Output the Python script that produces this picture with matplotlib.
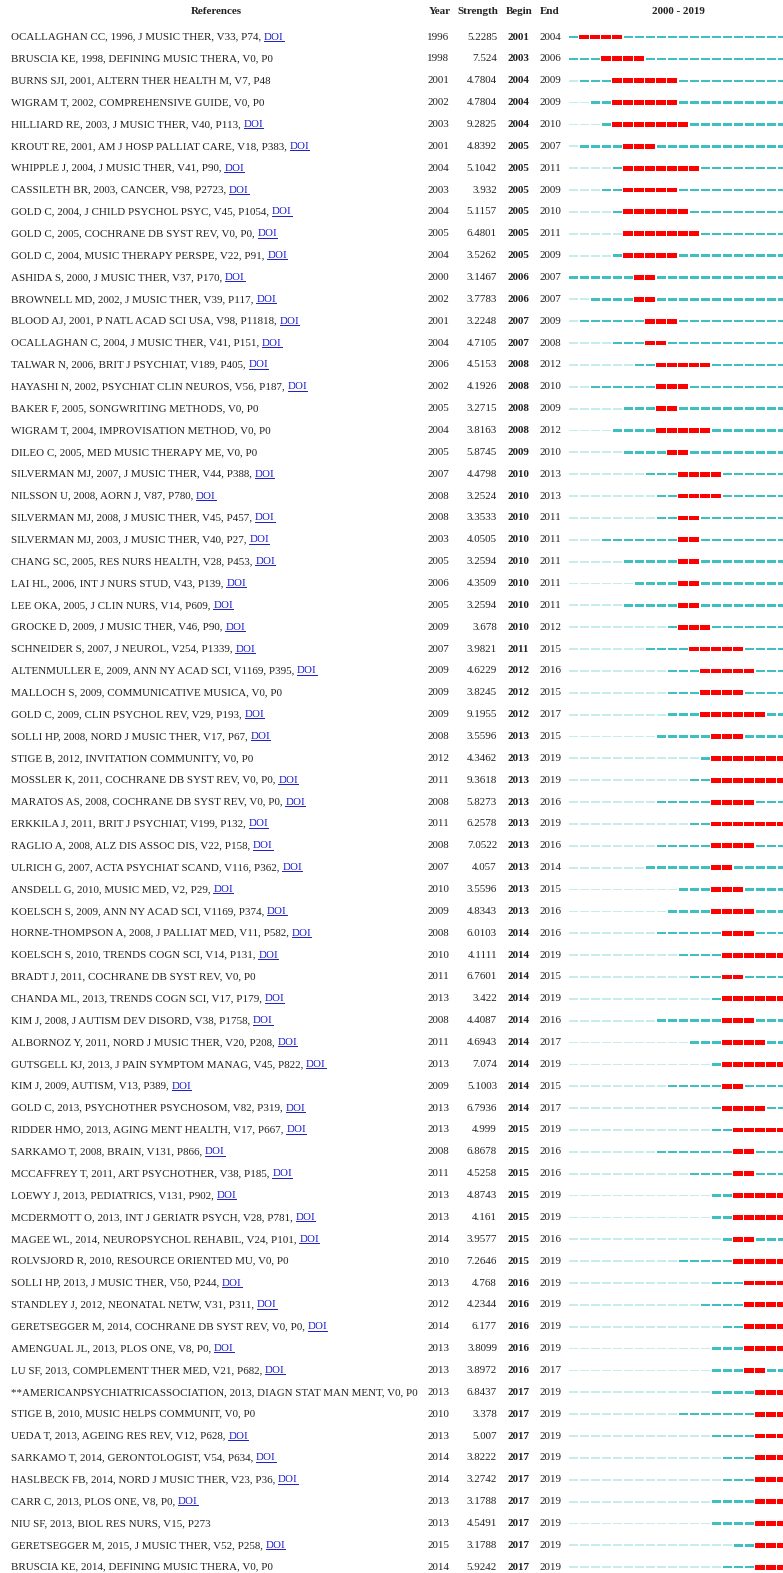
import matplotlib
matplotlib.use("Agg")
import matplotlib.pyplot as plt

refs = [
    "OCALLAGHAN CC, 1996, J MUSIC THER, V33, P74, ",
    "BRUSCIA KE, 1998, DEFINING MUSIC THERA, V0, P0",
    "BURNS SJI, 2001, ALTERN THER HEALTH M, V7, P48",
    "WIGRAM T, 2002, COMPREHENSIVE GUIDE, V0, P0",
    "HILLIARD RE, 2003, J MUSIC THER, V40, P113, ",
    "KROUT RE, 2001, AM J HOSP PALLIAT CARE, V18, P383, ",
    "WHIPPLE J, 2004, J MUSIC THER, V41, P90, ",
    "CASSILETH BR, 2003, CANCER, V98, P2723, ",
    "GOLD C, 2004, J CHILD PSYCHOL PSYC, V45, P1054, ",
    "GOLD C, 2005, COCHRANE DB SYST REV, V0, P0, ",
    "GOLD C, 2004, MUSIC THERAPY PERSPE, V22, P91, ",
    "ASHIDA S, 2000, J MUSIC THER, V37, P170, ",
    "BROWNELL MD, 2002, J MUSIC THER, V39, P117, ",
    "BLOOD AJ, 2001, P NATL ACAD SCI USA, V98, P11818, ",
    "OCALLAGHAN C, 2004, J MUSIC THER, V41, P151, ",
    "TALWAR N, 2006, BRIT J PSYCHIAT, V189, P405, ",
    "HAYASHI N, 2002, PSYCHIAT CLIN NEUROS, V56, P187, ",
    "BAKER F, 2005, SONGWRITING METHODS, V0, P0",
    "WIGRAM T, 2004, IMPROVISATION METHOD, V0, P0",
    "DILEO C, 2005, MED MUSIC THERAPY ME, V0, P0",
    "SILVERMAN MJ, 2007, J MUSIC THER, V44, P388, ",
    "NILSSON U, 2008, AORN J, V87, P780, ",
    "SILVERMAN MJ, 2008, J MUSIC THER, V45, P457, ",
    "SILVERMAN MJ, 2003, J MUSIC THER, V40, P27, ",
    "CHANG SC, 2005, RES NURS HEALTH, V28, P453, ",
    "LAI HL, 2006, INT J NURS STUD, V43, P139, ",
    "LEE OKA, 2005, J CLIN NURS, V14, P609, ",
    "GROCKE D, 2009, J MUSIC THER, V46, P90, ",
    "SCHNEIDER S, 2007, J NEUROL, V254, P1339, ",
    "ALTENMULLER E, 2009, ANN NY ACAD SCI, V1169, P395, ",
    "MALLOCH S, 2009, COMMUNICATIVE MUSICA, V0, P0",
    "GOLD C, 2009, CLIN PSYCHOL REV, V29, P193, ",
    "SOLLI HP, 2008, NORD J MUSIC THER, V17, P67, ",
    "STIGE B, 2012, INVITATION COMMUNITY, V0, P0",
    "MOSSLER K, 2011, COCHRANE DB SYST REV, V0, P0, ",
    "MARATOS AS, 2008, COCHRANE DB SYST REV, V0, P0, ",
    "ERKKILA J, 2011, BRIT J PSYCHIAT, V199, P132, ",
    "RAGLIO A, 2008, ALZ DIS ASSOC DIS, V22, P158, ",
    "ULRICH G, 2007, ACTA PSYCHIAT SCAND, V116, P362, ",
    "ANSDELL G, 2010, MUSIC MED, V2, P29, ",
    "KOELSCH S, 2009, ANN NY ACAD SCI, V1169, P374, ",
    "HORNE-THOMPSON A, 2008, J PALLIAT MED, V11, P582, ",
    "KOELSCH S, 2010, TRENDS COGN SCI, V14, P131, ",
    "BRADT J, 2011, COCHRANE DB SYST REV, V0, P0",
    "CHANDA ML, 2013, TRENDS COGN SCI, V17, P179, ",
    "KIM J, 2008, J AUTISM DEV DISORD, V38, P1758, ",
    "ALBORNOZ Y, 2011, NORD J MUSIC THER, V20, P208, ",
    "GUTSGELL KJ, 2013, J PAIN SYMPTOM MANAG, V45, P822, ",
    "KIM J, 2009, AUTISM, V13, P389, ",
    "GOLD C, 2013, PSYCHOTHER PSYCHOSOM, V82, P319, ",
    "RIDDER HMO, 2013, AGING MENT HEALTH, V17, P667, ",
    "SARKAMO T, 2008, BRAIN, V131, P866, ",
    "MCCAFFREY T, 2011, ART PSYCHOTHER, V38, P185, ",
    "LOEWY J, 2013, PEDIATRICS, V131, P902, ",
    "MCDERMOTT O, 2013, INT J GERIATR PSYCH, V28, P781, ",
    "MAGEE WL, 2014, NEUROPSYCHOL REHABIL, V24, P101, ",
    "ROLVSJORD R, 2010, RESOURCE ORIENTED MU, V0, P0",
    "SOLLI HP, 2013, J MUSIC THER, V50, P244, ",
    "STANDLEY J, 2012, NEONATAL NETW, V31, P311, ",
    "GERETSEGGER M, 2014, COCHRANE DB SYST REV, V0, P0, ",
    "AMENGUAL JL, 2013, PLOS ONE, V8, P0, ",
    "LU SF, 2013, COMPLEMENT THER MED, V21, P682, ",
    "**AMERICANPSYCHIATRICASSOCIATION, 2013, DIAGN STAT MAN MENT, V0, P0",
    "STIGE B, 2010, MUSIC HELPS COMMUNIT, V0, P0",
    "UEDA T, 2013, AGEING RES REV, V12, P628, ",
    "SARKAMO T, 2014, GERONTOLOGIST, V54, P634, ",
    "HASLBECK FB, 2014, NORD J MUSIC THER, V23, P36, ",
    "CARR C, 2013, PLOS ONE, V8, P0, ",
    "NIU SF, 2013, BIOL RES NURS, V15, P273",
    "GERETSEGGER M, 2015, J MUSIC THER, V52, P258, ",
    "BRUSCIA KE, 2014, DEFINING MUSIC THERA, V0, P0",
]
has_doi = [r.endswith(", ") for r in refs]

years = [1996, 1998, 2001, 2002, 2003, 2001, 2004, 2003, 2004, 2005,
         2004, 2000, 2002, 2001, 2004, 2006, 2002, 2005, 2004, 2005,
         2007, 2008, 2008, 2003, 2005, 2006, 2005, 2009, 2007, 2009,
         2009, 2009, 2008, 2012, 2011, 2008, 2011, 2008, 2007, 2010,
         2009, 2008, 2010, 2011, 2013, 2008, 2011, 2013, 2009, 2013,
         2013, 2008, 2011, 2013, 2013, 2014, 2010, 2013, 2012, 2014,
         2013, 2013, 2013, 2010, 2013, 2014, 2014, 2013, 2013, 2015,
         2014]
strengths = [5.2285, 7.524, 4.7804, 4.7804, 9.2825, 4.8392, 5.1042, 3.932, 5.1157, 6.4801,
             3.5262, 3.1467, 3.7783, 3.2248, 4.7105, 4.5153, 4.1926, 3.2715, 3.8163, 5.8745,
             4.4798, 3.2524, 3.3533, 4.0505, 3.2594, 4.3509, 3.2594, 3.678, 3.9821, 4.6229,
             3.8245, 9.1955, 3.5596, 4.3462, 9.3618, 5.8273, 6.2578, 7.0522, 4.057, 3.5596,
             4.8343, 6.0103, 4.1111, 6.7601, 3.422, 4.4087, 4.6943, 7.074, 5.1003, 6.7936,
             4.999, 6.8678, 4.5258, 4.8743, 4.161, 3.9577, 7.2646, 4.768, 4.2344, 6.177,
             3.8099, 3.8972, 6.8437, 3.378, 5.007, 3.8222, 3.2742, 3.1788, 4.5491, 3.1788,
             5.9242]
begins = [2001, 2003, 2004, 2004, 2004, 2005, 2005, 2005, 2005, 2005,
          2005, 2006, 2006, 2007, 2007, 2008, 2008, 2008, 2008, 2009,
          2010, 2010, 2010, 2010, 2010, 2010, 2010, 2010, 2011, 2012,
          2012, 2012, 2013, 2013, 2013, 2013, 2013, 2013, 2013, 2013,
          2013, 2014, 2014, 2014, 2014, 2014, 2014, 2014, 2014, 2014,
          2015, 2015, 2015, 2015, 2015, 2015, 2015, 2016, 2016, 2016,
          2016, 2016, 2017, 2017, 2017, 2017, 2017, 2017, 2017, 2017,
          2017]
ends = [2004, 2006, 2009, 2009, 2010, 2007, 2011, 2009, 2010, 2011,
        2009, 2007, 2007, 2009, 2008, 2012, 2010, 2009, 2012, 2010,
        2013, 2013, 2011, 2011, 2011, 2011, 2011, 2012, 2015, 2016,
        2015, 2017, 2015, 2019, 2019, 2016, 2019, 2016, 2014, 2015,
        2016, 2016, 2019, 2015, 2019, 2016, 2017, 2019, 2015, 2017,
        2019, 2016, 2016, 2019, 2019, 2016, 2019, 2019, 2019, 2019,
        2019, 2017, 2019, 2019, 2019, 2019, 2019, 2019, 2019, 2019,
        2019]
span_years = list(range(2000, 2020))

W, H = 783, 1573
FONT = "Liberation Serif"
FS = 7.9
TEAL = "#3ec0c0"
LIGHT = "#c8ecec"
RED = "#ff0000"
LINK = "#1a1acc"

fig = plt.figure(figsize=(W / 100, H / 100), dpi=100)
ax = fig.add_axes([0, 0, 1, 1])
ax.set_xlim(0, W)
ax.set_ylim(H, 0)
ax.axis("off")

bx = fig.add_axes([568 / W, 0, 220 / W, 1])
bx.set_xlim(span_years[0], span_years[-1] + 1)
bx.set_ylim(H, 0)
bx.axis("off")

# header
hy = 12
hkw = dict(fontfamily=FONT, fontsize=FS, fontweight="bold", va="center", color="#222222")
ax.text(216, hy, "References", ha="center", **hkw)
ax.text(440, hy, "Year", ha="center", **hkw)
ax.text(478, hy, "Strength", ha="center", **hkw)
ax.text(519, hy, "Begin", ha="center", **hkw)
ax.text(550, hy, "End", ha="center", **hkw)
ax.text(678, hy, f"{span_years[0]} - {span_years[-1]}", ha="center", **hkw)

fig.canvas.draw()
renderer = fig.canvas.get_renderer()
inv = ax.transData.inverted()

y0, dy = 37.0, 21.86
tkw = dict(fontfamily=FONT, fontsize=FS, va="baseline", color="#222222")
for i, ref in enumerate(refs):
    y = y0 + i * dy
    tb = y + 2.5
    t = ax.text(11, tb, ref, ha="left", **tkw)
    if has_doi[i]:
        bb = t.get_window_extent(renderer=renderer)
        x_end = inv.transform((bb.x1, bb.y0))[0]
        d = ax.text(x_end, tb, "DOI", ha="left", fontfamily=FONT, fontsize=FS,
                    va="baseline", color=LINK)
        db = d.get_window_extent(renderer=renderer)
        xa = inv.transform((db.x0, 0))[0]
        xb = inv.transform((db.x1, 0))[0]
        ax.plot([xa, xb], [tb + 1.3, tb + 1.3], color=LINK, lw=0.7)
    ax.text(427, tb, str(years[i]), ha="left", **tkw)
    ax.text(497, tb, str(strengths[i]), ha="right", **tkw)
    ax.text(507, tb, str(begins[i]), ha="left", fontweight="bold", **tkw)
    ax.text(540, tb, str(ends[i]), ha="left", **tkw)

    light, teal, red = [], [], []
    for yr in span_years:
        if begins[i] <= yr <= ends[i]:
            red.append((yr + 0.03, 0.92))
        elif yr >= years[i]:
            teal.append((yr + 0.05, 0.84))
        else:
            light.append((yr + 0.05, 0.84))
    if light:
        bx.broken_barh(light, (y - 0.9, 1.8), facecolors=LIGHT)
    if teal:
        bx.broken_barh(teal, (y - 1.2, 2.4), facecolors=TEAL)
    if red:
        bx.broken_barh(red, (y - 2.4, 4.8), facecolors=RED)

fig.savefig("out.png", dpi=100)
